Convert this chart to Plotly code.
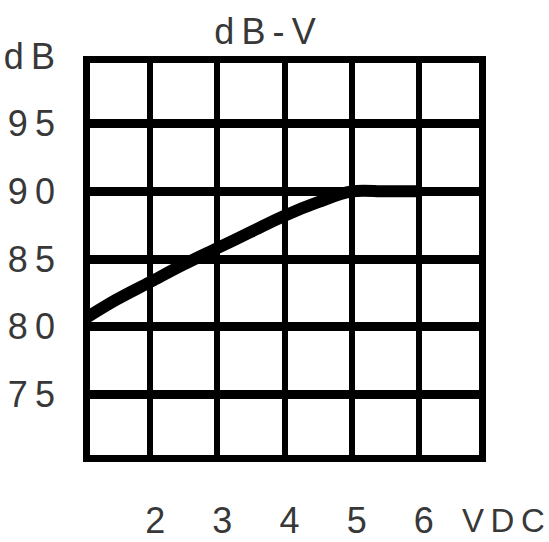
import plotly.graph_objects as go

# ====================================================
# DATA
# ====================================================
volts = [1, 1.5, 2, 2.5, 3, 3.5, 4, 4.5, 5, 5.5, 6]
db = [80.5, 82.0, 83.3, 84.6, 85.8, 87.0, 88.2, 89.2, 90.0, 90.0, 90.0]

x_ticks = [2, 3, 4, 5, 6]
x_labels = ["2", "3", "4", "5", "6"]
y_ticks = [75, 80, 85, 90, 95, 100]
sp = "\u2009"
y_labels = [sp.join(s) for s in ["75", "80", "85", "90", "95", "dB"]]

font_family = "Liberation Sans, Arial, sans-serif"
text_color = "#383838"
fsize = 36

# ====================================================
# FIGURE
# ====================================================
fig = go.Figure()

fig.add_trace(go.Scatter(
    x=volts, y=db,
    mode="lines",
    line=dict(color="black", width=12, shape="spline"),
    showlegend=False,
    hoverinfo="skip"
))

# outer frame
fig.add_shape(
    type="rect", xref="x", yref="y",
    x0=1, x1=7, y0=70, y1=100,
    line=dict(color="black", width=14),
    layer="between"
)

# unit label right of the last tick
fig.add_annotation(
    x=(503 - 83) / 403, y=0, xref="paper", yref="paper",
    text=sp.join("VDC"), showarrow=False,
    xanchor="center", yanchor="middle",
    yshift=-58,
    font=dict(family=font_family, size=33, color=text_color)
)

fig.update_layout(
    width=549, height=542,
    margin=dict(l=83, r=63, t=56, b=80, autoexpand=False),
    paper_bgcolor="white",
    plot_bgcolor="white",
    title=dict(
        text=sp.join("dB-V"),
        x=(265 - 83) / 403, xref="paper",
        y=1 - 31 / 542, yref="container",
        xanchor="center", yanchor="middle",
        font=dict(family=font_family, size=fsize, color=text_color)
    ),
    xaxis=dict(
        range=[1, 7],
        tickvals=x_ticks, ticktext=x_labels,
        showgrid=True, gridcolor="black", gridwidth=6,
        zeroline=False, showline=False, ticks="",
        automargin=False,
        ticklabelstandoff=34,
        ticklabelshift=5,
        tickfont=dict(family=font_family, size=fsize, color=text_color)
    ),
    yaxis=dict(
        range=[70, 100],
        tickvals=y_ticks, ticktext=y_labels,
        showgrid=True, gridcolor="black", gridwidth=9,
        zeroline=False, showline=False, ticks="",
        automargin=False,
        ticklabelstandoff=27,
        tickfont=dict(family=font_family, size=fsize, color=text_color)
    )
)

# page body has an 8px default margin; drop it so the figure sits at 0,0
fig.write_html("out.html", config={"displayModeBar": False},
               post_script="document.body.style.margin='0';")
